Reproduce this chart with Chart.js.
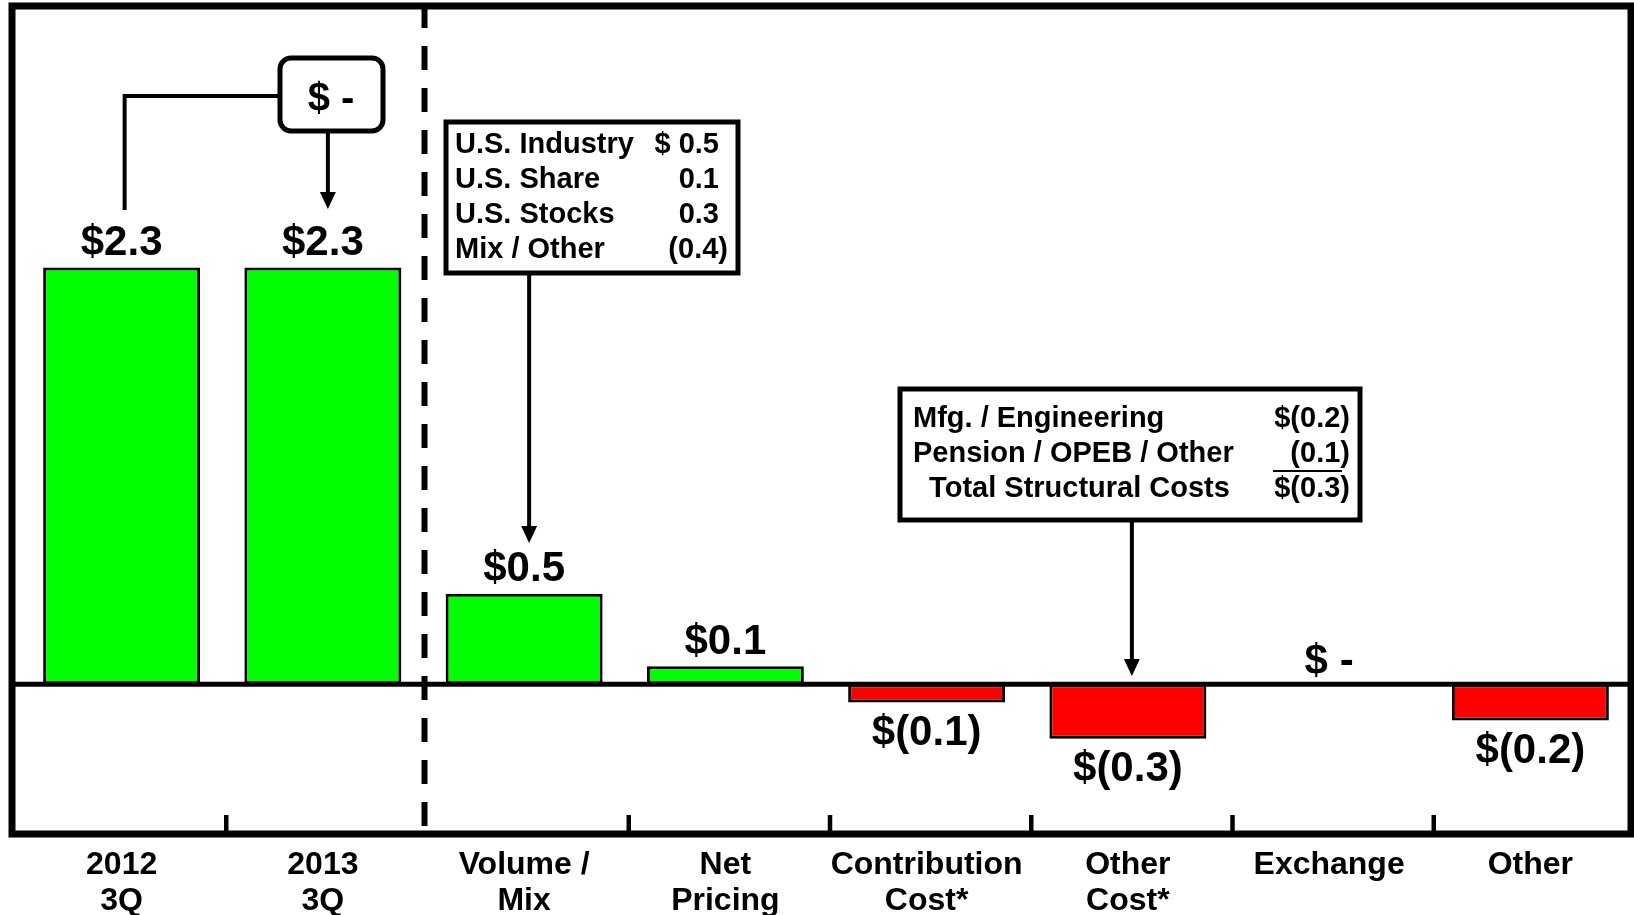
<!DOCTYPE html>
<html>
<head>
<meta charset="utf-8">
<script src="https://cdn.jsdelivr.net/npm/chart.js@4/dist/chart.umd.min.js"></script>
<style>
  html, body { margin: 0; padding: 0; background: #fff; }
  #wrap { width: 1634px; height: 915px; }
</style>
</head>
<body>
<div id="wrap"><canvas id="walk" width="1634" height="915"></canvas></div>
<script>
// Categories and values ($ billions)
const categories = [['2012', '3Q'], ['2013', '3Q'], ['Volume /', 'Mix'], ['Net', 'Pricing'],
  ['Contribution', 'Cost*'], ['Other', 'Cost*'], ['Exchange'], ['Other']];
const values = [2.3, 2.3, 0.5, 0.1, -0.1, -0.3, 0, -0.2];

// Callout boxes
const changeLabel = '$ -';
const volumeRows = ['U.S. Industry', 'U.S. Share', 'U.S. Stocks', 'Mix / Other'];
const volumeVals = ['$ 0.5', '0.1', '0.3', '(0.4)'];
const costRows = ['Mfg. / Engineering', 'Pension / OPEB / Other', '  Total Structural Costs'];
const costVals = ['$(0.2)', '(0.1)', '$(0.3)'];

const FONT = "'Liberation Sans', Arial, sans-serif";
const GREEN = '#00ff00';
const RED = '#ff0000';

function fmt(v) {
  if (v === 0) return '$ -';
  if (v < 0) return '$(' + Math.abs(v).toFixed(1) + ')';
  return '$' + v.toFixed(1);
}

function arrowDown(ctx, x, y1, y2) {
  ctx.beginPath();
  ctx.moveTo(x, y1);
  ctx.lineTo(x, y2 - 14);
  ctx.stroke();
  ctx.beginPath();
  ctx.moveTo(x - 8, y2 - 17);
  ctx.lineTo(x + 8, y2 - 17);
  ctx.lineTo(x, y2);
  ctx.closePath();
  ctx.fill();
}

const overlay = {
  id: 'overlay',
  afterDatasetsDraw(chart) {
    const ctx = chart.ctx;
    const x = chart.scales.x, y = chart.scales.y;
    const area = chart.chartArea;
    const zero = y.getPixelForValue(0);
    const half = (x.getPixelForValue(1) - x.getPixelForValue(0)) / 2;
    ctx.save();
    ctx.strokeStyle = '#000';
    ctx.fillStyle = '#000';

    // zero line
    ctx.lineWidth = 5;
    ctx.beginPath();
    ctx.moveTo(12, zero);
    ctx.lineTo(1631, zero);
    ctx.stroke();

    // dashed separator between start and drivers
    const dx = x.getPixelForValue(1) + half + 1;
    ctx.lineWidth = 6;
    ctx.setLineDash([24, 18]);
    ctx.beginPath();
    ctx.moveTo(dx, 4);
    ctx.lineTo(dx, 826);
    ctx.stroke();
    ctx.setLineDash([]);

    // bottom tick marks
    ctx.lineWidth = 4.5;
    [0, 2, 3, 4, 5, 6].forEach(i => {
      const tx = x.getPixelForValue(i) + half + 4;
      ctx.beginPath();
      ctx.moveTo(tx, area.bottom);
      ctx.lineTo(tx, area.bottom - 18);
      ctx.stroke();
    });

    // value labels
    ctx.font = 'bold 42px ' + FONT;
    ctx.textAlign = 'center';
    ctx.textBaseline = 'middle';
    values.forEach((v, i) => {
      const px = x.getPixelForValue(i);
      let py;
      if (v > 0) py = y.getPixelForValue(v) - 24;
      else if (v < 0) py = y.getPixelForValue(v) + 31;
      else py = zero - 22;
      ctx.fillText(fmt(v), px, py);
    });

    // "$ -" change box between 2012 and 2013
    const b0x = x.getPixelForValue(0), b1x = x.getPixelForValue(1);
    ctx.lineWidth = 4;
    ctx.beginPath();
    ctx.moveTo(b0x + 3, 210);
    ctx.lineTo(b0x + 3, 96);
    ctx.lineTo(280, 96);
    ctx.stroke();
    ctx.lineWidth = 5;
    ctx.beginPath();
    ctx.roundRect(280, 58, 103, 73, 11);
    ctx.stroke();
    ctx.lineWidth = 4;
    arrowDown(ctx, b1x + 5, 131, 209);
    ctx.font = 'bold 40px ' + FONT;
    ctx.fillText(changeLabel, 331, 100);

    // Volume / Mix callout
    ctx.lineWidth = 5;
    ctx.strokeRect(446, 122, 292, 151);
    ctx.font = 'bold 29px ' + FONT;
    volumeRows.forEach((t, i) => {
      const ry = 145 + i * 35;
      ctx.textAlign = 'left';
      ctx.fillText(t, 455, ry);
      ctx.textAlign = 'right';
      const v = volumeVals[i];
      ctx.fillText(v, v.endsWith(')') ? 728 : 719, ry);
    });
    ctx.lineWidth = 4;
    arrowDown(ctx, x.getPixelForValue(2) + 5, 275, 543);

    // Other Cost callout
    ctx.lineWidth = 5;
    ctx.strokeRect(900, 389, 460, 131);
    costRows.forEach((t, i) => {
      const ry = 419 + i * 35;
      ctx.textAlign = 'left';
      ctx.fillText(t, 913, ry);
      ctx.textAlign = 'right';
      ctx.fillText(costVals[i], 1350, ry);
    });
    ctx.lineWidth = 2;
    ctx.beginPath();
    ctx.moveTo(1273, 471);
    ctx.lineTo(1342, 471);
    ctx.stroke();
    ctx.lineWidth = 4;
    arrowDown(ctx, x.getPixelForValue(5) + 4, 521, 676);

    // outer frame
    ctx.lineWidth = 7;
    ctx.strokeRect(12, 6, 1619, 828);
    ctx.restore();
  }
};

new Chart(document.getElementById('walk'), {
  type: 'bar',
  data: {
    labels: categories,
    datasets: [{
      data: values,
      backgroundColor: values.map(v => v >= 0 ? GREEN : RED),
      borderColor: '#000',
      borderWidth: 3,
      borderSkipped: false,
      categoryPercentage: 1,
      barPercentage: 0.78
    }]
  },
  options: {
    responsive: false,
    animation: false,
    layout: { padding: { left: 21, right: 3, top: 10, bottom: 0 } },
    plugins: { legend: { display: false }, tooltip: { enabled: false } },
    scales: {
      y: { display: false, min: -0.82, max: 3.72 },
      x: {
        grid: { display: false, drawTicks: false },
        border: { display: false },
        afterFit(scale) { scale.height = 82; },
        ticks: {
          padding: 14,
          color: '#000',
          maxRotation: 0,
          autoSkip: false,
          font: { family: FONT, size: 32, weight: 'bold', lineHeight: 1.13 }
        }
      }
    }
  },
  plugins: [overlay]
});
</script>
</body>
</html>
